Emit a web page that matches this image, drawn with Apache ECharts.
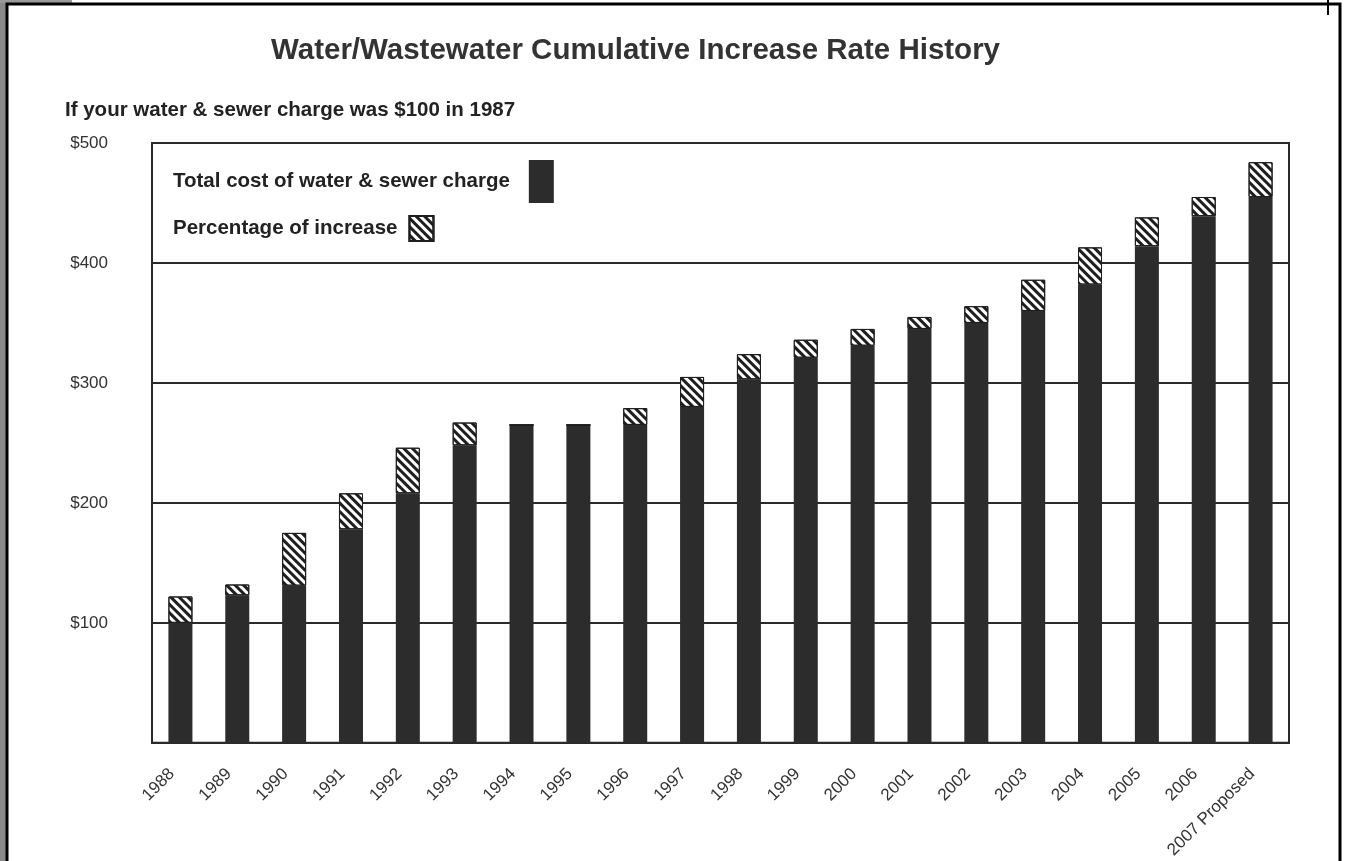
<!DOCTYPE html>
<html>
<head>
<meta charset="utf-8">
<script src="https://cdn.jsdelivr.net/npm/echarts@6/dist/echarts.min.js"></script>
<style>
html,body{margin:0;padding:0;background:#fff;}
#chart{width:1346px;height:861px;}
</style>
</head>
<body>
<div id="chart"></div>
<script>
const categories = ['1988','1989','1990','1991','1992','1993','1994','1995','1996','1997','1998','1999','2000','2001','2002','2003','2004','2005','2006','2007 Proposed'];
// previous total (dark part)
const baseCost = [100,123,131,178,208,248,265,265,265,280,303,321,331,345,350,360,382,414,439,455];
// increase on top (hatched part)
const increase = [22,9,44,30,38,19,0,0,14,25,21,15,14,10,14,26,31,24,16,29];
const yTickLabels = ['', '$100', '$200', '$300', '$400', '$500'];
const seriesNames = ['Total cost of water & sewer charge', 'Percentage of increase'];

const chart = echarts.init(document.getElementById('chart'));
const dark = '#2c2c2c';
const font = 'Liberation Sans, Arial';
const hatch = {
  symbol: 'rect', symbolSize: 1,
  dashArrayX: [1, 0], dashArrayY: [3, 3],
  rotation: Math.PI / 4, color: '#1e1e1e'
};
chart.setOption({
  backgroundColor: '#ffffff',
  animation: false,
  title: [
    { text: 'Water/Wastewater Cumulative Increase Rate History', left: 266, top: 31,
      textStyle: { fontFamily: font, fontWeight: 'bold', fontSize: 29.5, color: '#333' } },
    { text: 'If your water & sewer charge was $100 in 1987', left: 60, top: 95,
      textStyle: { fontFamily: font, fontWeight: 'bold', fontSize: 20.5, color: '#222' } }
  ],
  legend: [
    { data: [{ name: seriesNames[0], icon: 'rect' }], left: 168, top: 155, align: 'right',
      itemWidth: 25, itemHeight: 43,
      textStyle: { fontFamily: font, fontWeight: 'bold', fontSize: 20.5, color: '#222', padding: [0, 14, 0, 0] } },
    { data: [{ name: seriesNames[1], icon: 'rect' }], left: 168, top: 210, align: 'right',
      itemWidth: 24, itemHeight: 25,
      textStyle: { fontFamily: font, fontWeight: 'bold', fontSize: 20.5, color: '#222', padding: [0, 7, 0, 0] } }
  ],
  grid: { left: 152, right: 57, top: 143, bottom: 118, show: true, borderColor: '#2a2a2a', borderWidth: 2 },
  xAxis: {
    type: 'category', data: categories,
    axisLine: { lineStyle: { color: '#2a2a2a', width: 2 } },
    axisTick: { show: false },
    axisLabel: { rotate: 45, interval: 0, margin: 20, padding: [0, 12, 0, 0], fontFamily: font, fontSize: 17, color: '#333' }
  },
  yAxis: {
    type: 'value', min: 0, max: 500, interval: 100,
    axisLine: { show: true, lineStyle: { color: '#2a2a2a', width: 2 } },
    axisTick: { show: false },
    splitLine: { lineStyle: { color: '#2a2a2a', width: 2 } },
    axisLabel: { formatter: v => yTickLabels[Math.round(v / 100)], margin: 44, fontFamily: font, fontSize: 17, color: '#333' }
  },
  series: [
    { name: seriesNames[0], type: 'bar', stack: 'cost', data: baseCost, barWidth: 24,
      itemStyle: { color: dark } },
    { name: seriesNames[1], type: 'bar', stack: 'cost', data: increase, barWidth: 24,
      itemStyle: { color: '#ffffff', borderColor: '#1e1e1e', borderWidth: 1, decal: hatch } }
  ],
  graphic: [
    { type: 'rect', left: 0, top: 0, shape: { width: 6, height: 861 }, style: { fill: '#8a8a8a' }, silent: true },
    { type: 'rect', left: 0, top: 0, shape: { width: 72, height: 3 }, style: { fill: '#9a9a9a' }, silent: true },
    { type: 'rect', shape: { x: 7, y: 4, width: 1333, height: 870 }, style: { fill: 'none', stroke: '#000', lineWidth: 3 }, silent: true },
    { type: 'line', shape: { x1: 1328, y1: 0, x2: 1328, y2: 15 }, style: { stroke: '#000', lineWidth: 2 }, silent: true }
  ]
});
</script>
</body>
</html>
